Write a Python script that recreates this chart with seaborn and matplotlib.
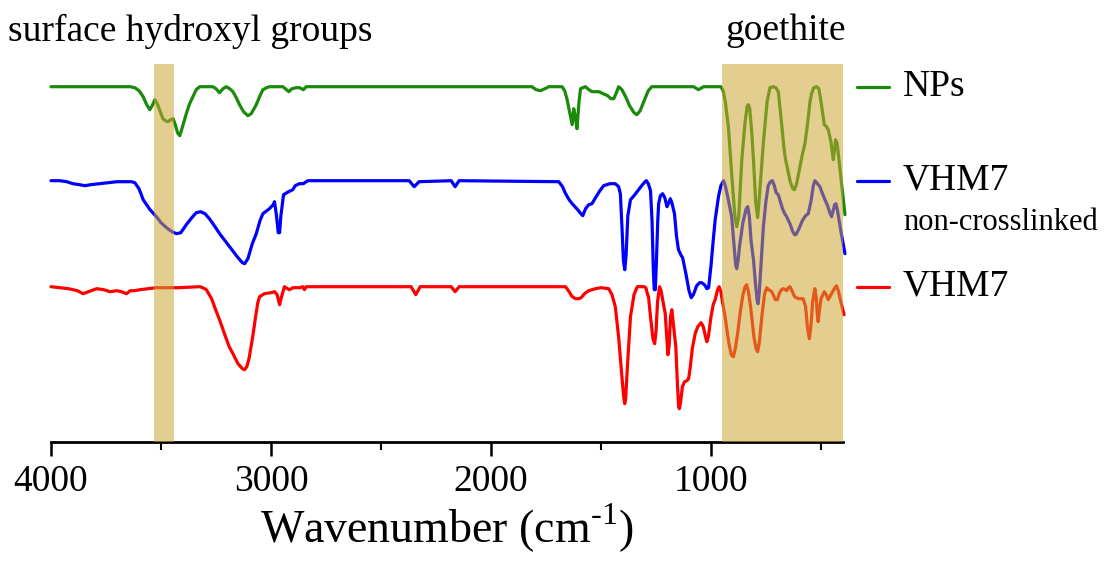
import matplotlib
matplotlib.use("Agg")
import matplotlib.pyplot as plt
import pandas as pd
import seaborn as sns
from matplotlib.transforms import blended_transform_factory

# ---- data: wavenumber (cm-1) and transmittance change relative to each baseline (a.u.) ----
wn_nps = [4000, 3640, 3619, 3600, 3581, 3565, 3551, 3540, 3528, 3515, 3500, 3491, 3480, 3468,
          3456, 3445, 3435, 3425, 3415, 3405, 3385, 3370, 3355, 3340, 3324, 3264, 3250, 3234,
          3218, 3203, 3188, 3173, 3158, 3143, 3125, 3105, 3090, 3067, 3050, 3037, 3020, 3007,
          2946, 2930, 2919, 2905, 2886, 2870, 2853, 2840, 1814, 1795, 1775, 1755, 1737, 1677,
          1665, 1654, 1640, 1631, 1624, 1617, 1609, 1600, 1593, 1571, 1555, 1541, 1525, 1510,
          1490, 1470, 1455, 1442, 1430, 1420, 1405, 1388, 1370, 1350, 1337, 1322, 1302, 1285,
          1269, 1079, 1057, 1034, 955, 945, 935, 921, 905, 892, 883, 874, 860, 845, 836, 830,
          824, 815, 807, 797, 788, 780, 762, 745, 732, 717, 705, 694, 680, 668, 661, 652, 640,
          628, 621, 612, 600, 585, 573, 560, 550, 543, 533, 520, 510, 500, 485, 475, 467, 455,
          444, 438, 434, 428, 425, 410, 391]
t_nps = [0, 0, -1, -4, -10, -18, -23, -19, -13, -18, -27, -32, -34, -35,
         -33, -32, -38, -46, -49, -42, -27, -17, -10, -3, 0, 0, -2, -6,
         -2, 0, -2, -5, -11, -18, -25, -29, -27, -18, -9, -3, -1, 0,
         0, -3, -5, -2, -1, -1, -3, 0, 0, -3, -4, -2, 0, 0,
         -4, -13, -28, -38, -22, -30, -42, -15, -2, 0, -3, -5, -5, -5,
         -7, -9, -12, -12, -6, 0, -3, -10, -19, -26, -28, -24, -13, -4,
         0, 0, -3, 0, 0, -4, -15, -40, -90, -128, -140, -130, -73, -35, -20, -18,
         -22, -45, -73, -115, -131, -110, -56, -15, -1, 0, -1, -5, -35, -62, -73, -82, -95,
         -102, -103, -98, -85, -68, -57, -35, -15, -7, -1, 0, -2, -15, -38, -40, -43, -55,
         -73, -62, -53, -56, -60, -90, -128]

wn_nc = [4000, 3960, 3929, 3900, 3870, 3846, 3820, 3778, 3740, 3700, 3660, 3634, 3619, 3600,
         3581, 3550, 3521, 3500, 3475, 3450, 3430, 3410, 3385, 3360, 3340, 3320, 3300, 3280,
         3264, 3230, 3188, 3150, 3130, 3120, 3105, 3085, 3067, 3050, 3037, 3007, 2990, 2984,
         2975, 2967, 2961, 2955, 2943, 2920, 2901, 2890, 2871, 2853, 2833, 2372, 2349, 2327,
         2181, 2163, 2145, 1692, 1675, 1661, 1645, 1631, 1610, 1595, 1583, 1570, 1556, 1541,
         1525, 1505, 1488, 1460, 1435, 1420, 1412, 1405, 1398, 1392, 1386, 1378, 1366, 1350,
         1336, 1315, 1300, 1294, 1285, 1275, 1268, 1262, 1258, 1253, 1248, 1242, 1238, 1230,
         1220, 1210, 1200, 1192, 1185, 1178, 1166, 1157, 1148, 1135, 1129, 1115, 1100, 1090,
         1080, 1065, 1052, 1042, 1030, 1018, 1011, 1000, 990, 981, 966, 955, 943, 935, 925,
         906, 895, 888, 883, 877, 870, 855, 840, 833, 826, 818, 807, 797, 790, 786, 780, 770,
         762, 750, 740, 730, 721, 712, 704, 694, 686, 675, 665, 656, 648, 641, 630, 620, 614,
         600, 585, 570, 558, 545, 535, 528, 520, 505, 495, 482, 470, 460, 452, 445, 438, 432,
         425, 410, 391]
t_nc = [0, 0, -1, -3, -4, -5, -4, -3, -2, -1, -1, -1, -2, -8,
        -19, -29, -36, -42, -47, -51, -53, -52, -44, -37, -32, -31, -33, -38,
        -43, -54, -66, -77, -82, -83, -78, -63, -53, -40, -33, -28, -24, -21,
        -35, -52, -52, -35, -14, -11, -9, -5, -3, -3, 0, 0, -6, -1,
        0, -6, 0, -1, -6, -13, -19, -23, -28, -32, -35, -28, -24, -23,
        -17, -10, -5, -3, -3, -6, -13, -45, -80, -89, -75, -35, -19, -15,
        -11, -5, -1, 0, -3, -10, -40, -90, -109, -109, -80, -40, -23, -15,
        -13, -17, -26, -22, -18, -22, -33, -55, -69, -75, -77, -92, -110, -117,
        -114, -105, -102, -102, -104, -108, -107, -85, -60, -39, -16, -5, 0, -5, -15,
        -36, -65, -84, -88, -80, -65, -42, -28, -26, -35, -60, -79, -105, -120, -123, -110, -75,
        -46, -20, -5, -1, 0, -5, -12, -14, -20, -28, -33, -36, -40, -43, -50, -54, -54,
        -48, -40, -35, -33, -20, -5, 0, -2, -6, -12, -19, -25, -32, -36, -30, -24, -23,
        -30, -50, -73]

wn_x = [4000, 3960, 3920, 3880, 3854, 3830, 3793, 3760, 3732, 3700, 3680, 3657, 3640, 3620,
        3596, 3560, 3521, 3480, 3420, 3324, 3310, 3294, 3270, 3250, 3234, 3210, 3190, 3173,
        3150, 3130, 3120, 3110, 3100, 3083, 3070, 3060, 3052, 3030, 3000, 2984, 2972, 2961,
        2952, 2939, 2925, 2916, 2900, 2870, 2856, 2848, 2840, 2825, 2363, 2342, 2322, 2181,
        2163, 2145, 1661, 1645, 1631, 1615, 1601, 1590, 1575, 1556, 1525, 1500, 1465, 1450,
        1435, 1420, 1405, 1396, 1392, 1388, 1380, 1366, 1350, 1335, 1320, 1305, 1296, 1288,
        1284, 1275, 1264, 1256, 1250, 1243, 1234, 1228, 1218, 1208, 1200, 1196, 1190, 1184,
        1178, 1172, 1165, 1160, 1152, 1147, 1144, 1138, 1130, 1120, 1110, 1102, 1095, 1085,
        1072, 1060, 1045, 1035, 1025, 1019, 1012, 1000, 990, 981, 970, 963, 955, 948, 936,
        920, 908, 898, 888, 878, 868, 855, 845, 838, 830, 820, 815, 805, 795, 788, 780, 769,
        757, 747, 738, 730, 724, 715, 708, 698, 690, 680, 671, 662, 656, 648, 641, 632, 620,
        603, 590, 581, 570, 562, 553, 546, 538, 528, 522, 516, 513, 508, 500, 485, 476, 467,
        455, 442, 430, 420, 410, 395]
t_x = [0, -1, -2, -4, -7, -5, -2, -3, -5, -4, -5, -7, -4, -4,
       -3, -2, -1, -1, -1, 0, -1, -3, -12, -24, -33, -48, -60, -67,
       -77, -82, -83, -80, -72, -50, -30, -16, -10, -7, -6, -5, -8, -18,
       -10, 0, -2, -3, -1, -1, 0, -3, 0, 0, 0, -8, 0, 0,
       -5, 0, 0, -5, -10, -12, -12, -11, -7, -4, -2, -1, -2, -8,
       -20, -50, -90, -112, -117, -112, -80, -30, -8, 0, 0, 0, -1, -8,
       -10, -30, -52, -57, -45, -15, 0, -3, -15, -27, -55, -68, -58, -30,
       -23, -35, -50, -60, -100, -120, -122, -115, -100, -95, -94, -92, -82, -62,
       -47, -40, -36, -40, -50, -55, -50, -30, -18, -13, -3, 0, -5, -15, -30,
       -55, -68, -70, -60, -45, -27, -8, 0, 2, -5, -20, -30, -50, -62, -65, -55, -30,
       -8, -1, -3, -4, -5, -9, -13, -13, -7, -3, -2, -3, -4, -1, 0, -4, -10,
       -12, -12, -12, -20, -40, -52, -40, -15, -2, -10, -30, -35, -25, -12, -5, -8, -13,
       -8, -3, 1, -5, -15, -28]

samples = ["NPs", "VHM7 non-crosslinked", "VHM7"]
colors = ["#1a8a0a", "#0000ff", "#ff0000"]
offsets = [0, -94, -200]

frames = []
for name, wn, t, off in zip(samples, [wn_nps, wn_nc, wn_x], [t_nps, t_nc, t_x], offsets):
    frames.append(pd.DataFrame({"wn": wn, "y": [v + off for v in t], "sample": name}))
df = pd.concat(frames, ignore_index=True)

sns.set_style("white")
plt.rcParams["font.family"] = ["Liberation Serif", "DejaVu Serif"]
plt.rcParams["mathtext.fontset"] = "custom"
plt.rcParams["mathtext.rm"] = "Liberation Serif"
plt.rcParams["axes.unicode_minus"] = False
for k in ["text.color", "axes.labelcolor", "xtick.color", "axes.edgecolor"]:
    plt.rcParams[k] = "black"

W, H = 1106, 566
fig = plt.figure(figsize=(W / 100, H / 100), dpi=100)
ax = fig.add_axes([51 / W, 1 - 442 / H, (843 - 51) / W, (442 - 64) / H])

sns.lineplot(data=df, x="wn", y="y", hue="sample", palette=dict(zip(samples, colors)),
             sort=False, estimator=None, legend=False, linewidth=2.3, ax=ax, clip_on=False)
for ln in ax.get_lines():
    ln.set_solid_joinstyle("round")

ax.axvspan(3440, 3530, color="#cca433", alpha=0.55, lw=0, zorder=5)
ax.axvspan(400, 950, color="#cca433", alpha=0.55, lw=0, zorder=5)

ax.set_xlim(4000, 400)
ax.set_ylim(-355.3, 22.7)
ax.set_xticks([4000, 3000, 2000, 1000])
ax.set_xticks([3500, 2500, 1500, 500], minor=True)
ax.set_yticks([])
ax.set_ylabel("")
sns.despine(ax=ax, left=True)
ax.spines["bottom"].set_linewidth(2.0)
ax.tick_params(axis="x", which="major", direction="out", length=10, width=1.8,
               labelsize=27, pad=6, bottom=True)
ax.tick_params(axis="x", which="minor", direction="out", length=6, width=1.5, bottom=True)
ax.set_xlabel("Wavenumber (cm$^{\\text{-1}}$)", fontsize=33, labelpad=2)

fig.text(190 / W, 1 - 31 / H, "surface hydroxyl groups", ha="center", va="center", fontsize=27)
fig.text(786 / W, 1 - 31 / H, "goethite", ha="center", va="center", fontsize=27)

tr = blended_transform_factory(ax.transAxes, ax.transData)
for name, col, off in zip(samples, colors, offsets):
    ax.plot([1.0177, 1.058], [off, off], color=col, lw=2.3, transform=tr, clip_on=False)
    ax.text(1.0758, off, name.split(" ")[0], transform=tr, ha="left", va="center",
            fontsize=27)
ax.text(1.0758, -136, "non-crosslinked", transform=tr, ha="left", va="center", fontsize=22)

fig.savefig("out.png", dpi=100)
